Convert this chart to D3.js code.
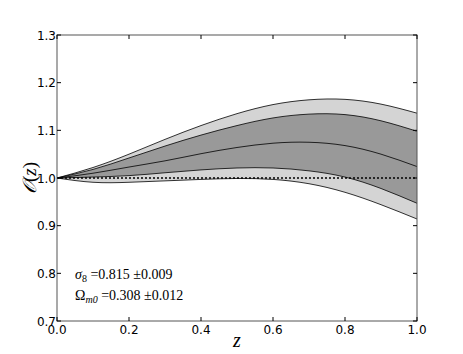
<!DOCTYPE html>
<html>
<head>
  <style>
    body { margin: 0; background: #fff; }
    .tick-label { font-family: "DejaVu Sans", sans-serif; font-size: 12px; fill: #000; }
    .math { font-family: "Liberation Serif", "DejaVu Serif", serif; fill: #000; }
  </style>
  <script src="https://d3js.org/d3.v7.min.js"></script>
</head>
<body>
<div class="chart"></div>
<script>
// redshift grid and the five curves
const zValues = [0, 0.1, 0.2, 0.3, 0.4, 0.5, 0.6, 0.7, 0.8, 0.9, 1.0];
const outerUpper = [1.0, 1.022, 1.050, 1.081, 1.110, 1.135, 1.154, 1.164, 1.165, 1.155, 1.136];
const innerUpper = [1.0, 1.018, 1.042, 1.067, 1.090, 1.110, 1.126, 1.134, 1.133, 1.120, 1.098];
const middle     = [1.0, 1.010, 1.023, 1.036, 1.051, 1.064, 1.073, 1.075, 1.068, 1.050, 1.024];
const innerLower = [1.0, 1.002, 1.005, 1.011, 1.017, 1.021, 1.021, 1.015, 1.002, 0.978, 0.947];
const outerLower = [1.0, 0.991, 0.991, 0.994, 0.997, 0.999, 0.997, 0.988, 0.970, 0.944, 0.914];
const xTicks = [0, 0.2, 0.4, 0.6, 0.8, 1.0];
const yTicks = [0.7, 0.8, 0.9, 1.0, 1.1, 1.2, 1.3];

const width = 463, height = 354;
const margin = {left: 57, right: 46, top: 35, bottom: 33};

const svg = d3.select('.chart').append('svg')
  .attr('width', width)
  .attr('height', height);

const x = d3.scaleLinear().domain([0, 1]).range([margin.left, width - margin.right]);
const y = d3.scaleLinear().domain([0.7, 1.3]).range([height - margin.bottom, margin.top]);

const band = (lo, hi) => d3.area()
  .x((d, i) => x(zValues[i]))
  .y0((d, i) => y(lo[i]))
  .y1((d, i) => y(hi[i]))
  .curve(d3.curveNatural)(zValues);

const line = vals => d3.line()
  .x((d, i) => x(zValues[i]))
  .y((d, i) => y(vals[i]))
  .curve(d3.curveNatural)(zValues);

// bands
svg.append('path').attr('d', band(outerLower, outerUpper)).attr('fill', '#d4d4d4');
svg.append('path').attr('d', band(innerLower, innerUpper)).attr('fill', '#999999');

// edges
[outerUpper, innerUpper, middle, innerLower, outerLower].forEach(vals => {
  svg.append('path').attr('d', line(vals))
    .attr('fill', 'none').attr('stroke', '#000').attr('stroke-width', 0.8);
});

// reference line at 1
svg.append('line')
  .attr('x1', x(0)).attr('x2', x(1))
  .attr('y1', y(1)).attr('y2', y(1))
  .attr('stroke', '#000').attr('stroke-width', 1.6)
  .attr('stroke-dasharray', '2,2');

// frame
svg.append('rect')
  .attr('x', x(0)).attr('y', y(1.3))
  .attr('width', x(1) - x(0)).attr('height', y(0.7) - y(1.3))
  .attr('fill', 'none').attr('stroke', '#555').attr('stroke-width', 1);

// ticks, inward on all four sides
const tickLen = 4;
xTicks.forEach(t => {
  svg.append('line').attr('x1', x(t)).attr('x2', x(t))
    .attr('y1', y(0.7)).attr('y2', y(0.7) - tickLen).attr('stroke', '#000');
  svg.append('line').attr('x1', x(t)).attr('x2', x(t))
    .attr('y1', y(1.3)).attr('y2', y(1.3) + tickLen).attr('stroke', '#000');
  svg.append('text').attr('class', 'tick-label')
    .attr('x', x(t)).attr('y', y(0.7) + 13)
    .attr('text-anchor', 'middle')
    .text(t.toFixed(1));
});
yTicks.forEach(t => {
  svg.append('line').attr('x1', x(0)).attr('x2', x(0) + tickLen)
    .attr('y1', y(t)).attr('y2', y(t)).attr('stroke', '#000');
  svg.append('line').attr('x1', x(1)).attr('x2', x(1) - tickLen)
    .attr('y1', y(t)).attr('y2', y(t)).attr('stroke', '#000');
  svg.append('text').attr('class', 'tick-label')
    .attr('x', x(0) - 1).attr('y', y(t) + 4.5)
    .attr('text-anchor', 'end')
    .text(t.toFixed(1));
});

// axis labels
svg.append('text').attr('class', 'math')
  .attr('x', (x(0) + x(1)) / 2).attr('y', 347)
  .attr('text-anchor', 'middle')
  .attr('font-size', 20).attr('font-style', 'italic')
  .text('z');

svg.append('text').attr('class', 'math')
  .attr('transform', `translate(36, ${y(1)}) rotate(-90)`)
  .attr('text-anchor', 'middle')
  .attr('font-size', 19)
  .call(t => {
    t.append('tspan').attr('font-family', '"DejaVu Serif", serif').attr('font-style', 'italic').text('𝒪');
    t.append('tspan').text('(');
    t.append('tspan').attr('font-style', 'italic').text('z');
    t.append('tspan').text(')');
  });

// parameter annotation
const note = svg.append('g').attr('class', 'math').attr('font-size', 14);
note.append('text').attr('x', 75).attr('y', 279)
  .call(t => {
    t.append('tspan').attr('font-style', 'italic').text('σ');
    t.append('tspan').attr('font-size', 10).attr('dy', 3).text('8');
    t.append('tspan').attr('dy', -3).text(' =0.815 ±0.009');
  });
note.append('text').attr('x', 75).attr('y', 300)
  .call(t => {
    t.append('tspan').text('Ω');
    t.append('tspan').attr('font-size', 10).attr('font-style', 'italic').attr('dy', 3).text('m0');
    t.append('tspan').attr('dy', -3).text(' =0.308 ±0.012');
  });
</script>
</body>
</html>
